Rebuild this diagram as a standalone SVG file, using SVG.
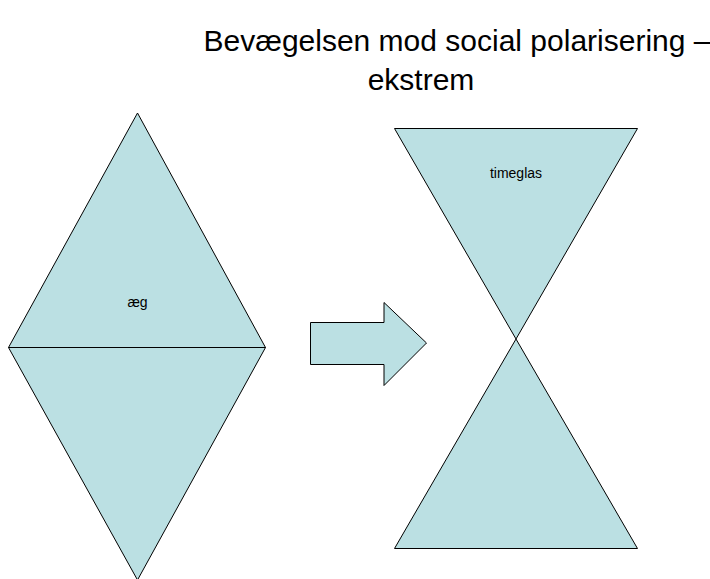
<svg xmlns="http://www.w3.org/2000/svg" width="710" height="579" viewBox="0 0 710 579">
<style>
.shape{fill:#BBE0E3;stroke:#000;stroke-width:1;stroke-linejoin:miter}
.title{font-family:"Liberation Sans",Arial,sans-serif;font-size:30px;fill:#000;text-anchor:middle}
.lbl{font-family:"Liberation Sans",Arial,sans-serif;font-size:14px;fill:#000;text-anchor:middle}
</style>
<rect width="710" height="579" fill="#fff"/>
<g id="title">
<text class="title" x="457" y="51">Bevægelsen mod social polarisering –</text>
<text class="title" x="421" y="90">ekstrem</text>
</g>
<g id="egg-top">
<polygon class="shape" points="137.5,113 8.5,347.5 265.5,347.5"/>
<text class="lbl" x="137.5" y="307">æg</text>
</g>
<g id="egg-bottom">
<polygon class="shape" points="8.5,347.5 265.5,347.5 137.5,580"/>
</g>
<g id="connectors">
<polygon class="shape" points="310.5,322.5 384,322.5 384,302.5 426.5,343 384,385.5 384,364.5 310.5,364.5"/>
</g>
<g id="hourglass-top">
<polygon class="shape" points="394.5,128.5 637.5,128.5 516,339"/>
<text class="lbl" x="516" y="178">timeglas</text>
</g>
<g id="hourglass-bottom">
<polygon class="shape" points="516,339 394.5,548.5 637.5,548.5"/>
</g>
</svg>
